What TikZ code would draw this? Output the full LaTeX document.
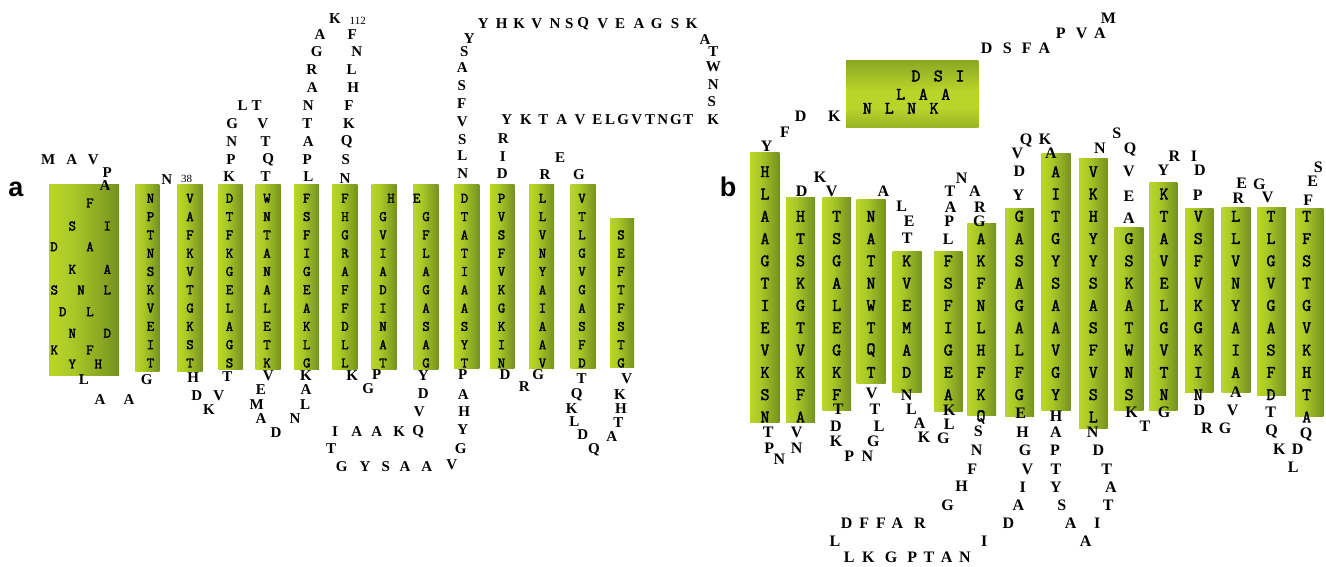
\documentclass[tikz,border=0pt]{standalone}
\usepackage{fontspec}
\setmainfont{Liberation Serif}
\newfontfamily\labelfont{Liberation Sans}
\newfontfamily\resfont[FakeBold=2.2]{Latin Modern Mono}

% helix colours
\definecolor{hxL}{RGB}{122,152,30}
\definecolor{hxM}{RGB}{186,213,42}
\definecolor{hxM2}{RGB}{170,200,38}
\definecolor{hxR}{RGB}{76,104,28}
\definecolor{hzD}{RGB}{88,118,28}
\definecolor{hzD2}{RGB}{96,126,30}

% cylinder look: light band left of centre for upright helices
\pgfdeclarehorizontalshading{hxshade}{100bp}{color(0bp)=(hxL); color(26bp)=(hxM); color(42bp)=(hxM2); color(100bp)=(hxR)}
% lying helix: bright band just below the middle
\pgfdeclareverticalshading{hzshade}{100bp}{color(0bp)=(hzD2); color(40bp)=(hxM); color(52bp)=(hxM); color(100bp)=(hzD)}

\tikzset{
  hxv/.style={shading=hxshade},
  hzb/.style={shading=hzshade},
  resa/.style={inner sep=0pt, font=\fontsize{14.5}{14.5}\selectfont\resfont},
  resb/.style={inner sep=0pt, font=\fontsize{17.5}{17.5}\selectfont\resfont},
  loopa/.style={inner sep=0pt, font=\fontsize{15}{15}\selectfont\bfseries},
  loopb/.style={inner sep=0pt, font=\fontsize{16}{16}\selectfont\bfseries},
  numtag/.style={inner sep=0pt, font=\fontsize{11}{11}\selectfont},
  panel/.style={inner sep=0pt, font=\fontsize{27}{27}\selectfont\labelfont\bfseries}
}

% residues stacked in a helix, one per row
\newcommand\colA[4]{\foreach \c [count=\k from #3] in {#4}
  \node[resa] (#1-\k) at (#2,{198.3+(\k-1)*18.3}) {\c};}
\newcommand\colB[4]{\foreach \c [count=\k from #3] in {#4}
  \node[resb] (#1-\k) at (#2,{171.7+(\k-1)*22.3}) {\c};}
% residues placed freely
\newcommand\freeA[2]{\foreach \x/\y/\c [count=\k] in {#2} \node[resa] (#1-\k) at (\x,\y) {\c};}
\newcommand\freeB[2]{\foreach \x/\y/\c [count=\k] in {#2} \node[resb] (#1-\k) at (\x,\y) {\c};}
\newcommand\loopA[2]{\foreach \x/\y/\c [count=\k] in {#2} \node[loopa] (#1-\k) at (\x,\y) {\c};}
\newcommand\loopB[2]{\foreach \x/\y/\c [count=\k] in {#2} \node[loopb] (#1-\k) at (\x,\y) {\c};}

\begin{document}
\begin{tikzpicture}[x=1pt,y=-1pt]
\useasboundingbox (0,0) rectangle (1326,566);
\fill[white] (0,0) rectangle (1326,566);

%%%%%%%%%%%%%%%% panel a %%%%%%%%%%%%%%%%
\node[panel] (pa) at (16,189) {a};

\path[hxv] (49,184.5) rectangle (119,375);
\path[hxv] (135.3,184.5) rectangle (159.3,371);
\path[hxv] (177.7,184.5) rectangle (202.7,371);
\path[hxv] (218.3,184.5) rectangle (242.7,369);
\path[hxv] (255.7,184.5) rectangle (280.7,369);
\path[hxv] (294,184.5) rectangle (319,369);
\path[hxv] (332.3,184.5) rectangle (357.3,369);
\path[hxv] (371.7,184.5) rectangle (396.7,369);
\path[hxv] (413.3,184.5) rectangle (438.3,369);
\path[hxv] (454.3,184.5) rectangle (479.3,368);
\path[hxv] (490,184.5) rectangle (514.3,368);
\path[hxv] (529,184.5) rectangle (554,368);
\path[hxv] (570.7,184.5) rectangle (595.7,368);
\path[hxv] (610,218.3) rectangle (634,367.7);

\freeA{a1}{90/203/F, 72.3/226/S, 107.3/226/I, 54/246.7/D, 90/246.7/A, 72.3/269.3/K, 107.3/269.3/A,
  54.3/290/S, 81/290/N, 107.3/290/L, 62.7/311.7/D, 90/311.7/L, 72.3/333.3/N, 107.3/333.3/D,
  54.3/350/K, 90/350/F, 72.3/364/Y, 98.3/364/H}
\colA{a2}{150.5}{1}{N,P,T,N,S,K,V,E,I,T}
\colA{a3}{190}{1}{V,A,F,K,V,T,G,K,S,T}
\colA{a4}{229.5}{1}{D,T,F,K,G,E,L,A,G,S}
\colA{a5}{267}{1}{W,N,T,A,N,A,L,E,T,K}
\colA{a6}{306.7}{1}{F,S,F,I,G,E,A,K,L,G}
\colA{a7}{345}{1}{F,H,G,R,A,F,F,D,L,L}
\colA{a8}{383}{2}{G,V,I,A,D,I,N,A,T}
\colA{a9}{426}{2}{G,F,L,A,G,A,S,A,G}
\colA{a10}{464.5}{1}{D,T,A,T,I,A,A,S,Y,T}
\colA{a11}{501.5}{1}{P,V,S,F,V,K,G,K,I,N}
\colA{a12}{542.5}{1}{L,L,V,N,Y,A,I,A,A,V}
\colA{a13}{582}{1}{V,T,L,G,V,G,A,S,F,D}
\colA{a14}{621}{3}{S,E,F,T,F,S,T,G}
\freeA{ax}{391/198.3/H, 416.7/198.3/E}

\loopA{la}{48.3/160/M, 71.7/160/A, 93.3/160/V, 107.3/172.2/P, 105/185.5/A, 84/380/L, 100/400/A, 129/400/A,
  146.7/380/G, 166.7/180/N, 193.3/377.3/H, 196.7/396/D, 209/409.3/K, 218.7/396/V, 227.3/376.7/T}
\loopA{lb}{229.3/176.7/K, 231/159.3/P, 231.7/141.7/N, 232.3/124/G, 242.7/106/L, 256.7/106/T,
  262.7/124/V, 265.7/141.7/T, 268.3/159.3/Q, 265.7/176.7/T}
\loopA{lc}{268.3/376/V, 261/390/E, 256.7/404.3/M, 261/418.3/A, 276/432.7/D, 295/418.3/N,
  305/404.3/L, 306/390/A, 306/376/K}
\loopA{ld}{308.3/176.7/L, 307.3/159.3/P, 308.3/141.7/A, 307.3/124/T, 308.3/106/N, 312.3/87.7/A,
  311.7/69.3/R, 316.7/51.7/G, 320/34.3/A, 335/18.3/K, 352.3/34.3/F, 356.7/51.7/N, 351.7/69.3/L,
  353.3/87.7/H, 349/106/F, 349/124/K, 346.7/141.7/Q, 345.7/160/S, 345/178.3/N}
\loopA{le}{352.3/376/K, 368.3/388.3/G, 376.7/375/P}
\loopA{lf}{423.3/376/Y, 423.3/394/D, 419.3/411.7/V, 418.3/431.7/Q, 399.3/431.7/K, 376.7/431.7/A,
  356.7/431.7/A, 335/431.7/I, 331/448.3/T, 341.7/466.7/G, 365/466.7/Y, 385.7/466.7/S, 405/466.7/A,
  426.7/466.7/A, 451.7/465/V, 460.7/448.3/G, 462.7/430/Y, 464.3/411.7/H, 463.3/395/A, 462.7/375/P}
\loopA{lg}{462.7/174/N, 462.3/156/L, 462.3/139.3/S, 462.3/121.7/V, 461.7/103.3/F, 461.7/86/S,
  462.3/67.7/A, 464.3/51.7/S, 469.3/38.3/Y, 483.3/23.3/Y, 501.7/23.3/H, 519.3/23.3/K, 536.7/23.3/V,
  555/23.3/N, 569.3/23.3/S, 583.3/23.3/Q, 602.7/23.3/V, 620/23.3/E, 639/23.3/A, 656.7/23.3/G,
  675/23.3/S, 691.7/23.3/K, 705/39.3/A, 713.3/51.7/T, 713.3/66.7/W, 713.3/85/N, 711.7/101.7/S,
  713.3/120/K, 688.3/120/T, 676/120/G, 662.7/120/N, 650/120/T, 636.7/120/V, 623.3/120/G, 610/120/L,
  597.3/120/E, 580/120/V, 561.7/120/A, 543.3/120/T, 526/120/K, 506.7/120/Y, 503.3/138.3/R,
  502.7/156.7/I, 502.3/174/D}
\loopA{lh}{505/375/D, 524.3/386.7/R, 538.3/375/G, 545/175/R, 560/157.3/E, 579/175/G, 581.7/378.3/T,
  576.7/395/Q, 571.7/408.3/K, 574.3/421.7/L, 582.7/435/D, 594/450/Q, 611.7/436.7/A, 618.3/422.7/T,
  621/408.3/H, 620/395/K, 626.7/378.3/V}

\node[numtag] (n38) at (186.7,179.3) {38};
\node[numtag] (n112) at (357.7,21) {112};

%%%%%%%%%%%%%%%% panel b %%%%%%%%%%%%%%%%
\node[panel] (pb) at (728,187) {b};

\path[hzb] (846,60.7) rectangle (978.3,127.3);
\path[hxv] (750,152.7) rectangle (779.3,422.3);
\path[hxv] (786,197.3) rectangle (815,422.3);
\path[hxv] (822.3,197.3) rectangle (851,410);
\path[hxv] (856.7,199.3) rectangle (885.7,383.3);
\path[hxv] (892.7,251.7) rectangle (921.7,392.7);
\path[hxv] (934,251.7) rectangle (962.7,411.7);
\path[hxv] (967.3,223.3) rectangle (996,415);
\path[hxv] (1005,208.3) rectangle (1034,416);
\path[hxv] (1041.7,153.3) rectangle (1070.7,410);
\path[hxv] (1079,158.3) rectangle (1107.7,428.3);
\path[hxv] (1114.3,227.3) rectangle (1143.3,410);
\path[hxv] (1149.3,182.7) rectangle (1177.3,410);
\path[hxv] (1185,208.3) rectangle (1213.3,392.7);
\path[hxv] (1221.7,207.3) rectangle (1250.7,392.7);
\path[hxv] (1257.3,207.3) rectangle (1286,395);
\path[hxv] (1295,208.3) rectangle (1323.3,416.7);

\freeB{b0}{916/76/D, 938.3/76/S, 960/76/I, 900.7/94.3/L, 923.3/94.3/A, 945.7/94.3/A,
  867.3/108.3/N, 889.3/108.3/L, 911.7/108.3/N, 934/108.3/K}
\colB{b1}{765}{1}{H,L,A,A,G,T,I,E,V,K,S,N}
\colB{b2}{800.5}{3}{H,T,S,K,G,T,V,K,F,A}
\colB{b3}{836.7}{3}{T,S,G,A,L,E,G,K,F}
\colB{b4}{871}{3}{N,A,T,N,W,T,Q,T}
\colB{b5}{906.7}{5}{K,V,E,M,A,D}
\colB{b6}{948.3}{5}{F,S,F,I,G,E,A}
\colB{b7}{981}{4}{A,K,F,N,L,H,F,K,Q}
\colB{b8}{1019.3}{3}{G,A,S,A,G,A,L,F,G}
\colB{b9}{1055.7}{1}{A,I,T,G,Y,S,A,A,V,G,Y}
\colB{b10}{1093.3}{1}{V,K,H,Y,Y,S,A,S,F,V,S,L}
\colB{b11}{1129}{4}{G,S,K,A,T,W,N,S}
\colB{b12}{1164}{2}{K,T,A,V,E,L,G,V,T,N}
\colB{b13}{1198.3}{3}{V,S,F,V,K,G,K,I,N}
\colB{b14}{1235.7}{3}{L,L,V,N,Y,A,I,A}
\colB{b15}{1271}{3}{T,L,G,V,G,A,S,F,D}
\colB{b16}{1306.7}{3}{T,F,S,T,G,V,K,H,T,A}

\loopB{ma}{1108.3/18.3/M, 1100/33.3/A, 1081.7/33.3/V, 1060.7/33.3/P, 1044.3/48.3/A, 1026.7/48.3/F,
  1007.3/48.3/S, 986.7/48.3/D, 834.3/116.7/K, 800.7/116.7/D, 785/132/F, 766.7/146/Y}
\loopB{mb}{768.3/432.7/T, 769.3/448.3/P, 779.3/459.3/N, 796.7/448.3/N, 796.7/432.7/V, 801.7/191.7/D,
  820/177.3/K, 831.7/191.7/V, 838.3/409/T, 836/426.7/D, 836/441.7/K, 849.3/456.5/P, 867.3/456/N,
  873.3/441.7/G, 879.3/426.7/L, 875/409.3/T, 871.7/393.3/V, 883.3/191.7/A, 901.7/206.7/L,
  909.3/221.7/E, 907.3/238.3/T}
\loopB{mc}{906.7/395/N, 911.5/409.5/L, 919.7/423/A, 924/437.5/K, 943.3/438.3/G, 949.3/424/L,
  949.3/410.5/K, 948.3/239/L, 949.3/221/P, 950.7/207.3/A, 950/191.7/T, 961.7/178.3/N, 975/191.7/A,
  980/207.3/R, 979.3/221.7/G}
\loopB{md}{978.3/431.7/S, 976.7/450.7/N, 972.3/469.3/F, 961.7/486.7/H, 947.7/505/G, 920/523.3/R,
  897.3/523.3/A, 881/523.3/F, 864.3/523.3/F, 846.7/523.3/D, 835/541.7/L, 849.3/557.5/L, 868.3/557.5/K,
  891/557.5/G, 912.3/557.5/P, 929/557.5/T, 946.7/557.5/A, 965/557.5/N, 984.3/541.7/I, 1008.3/523.3/D,
  1018.3/505.7/A, 1022.7/487/I, 1027.3/469.3/V, 1025/450.7/G, 1022.7/432.3/H, 1020.7/413.3/E}
\loopB{me}{1018.3/195/Y, 1019.3/171.7/D, 1017.3/153.3/V, 1026/140/Q, 1045/139/K, 1051/153.3/A,
  1056/416.5/H, 1056/432.3/A, 1055/450.7/P, 1056/469.3/T, 1056/487.3/Y, 1061.7/505.7/S,
  1070.7/523.3/A, 1085.7/541.7/A, 1097.3/523.3/I, 1108.3/505.7/T, 1111/487.3/A, 1106.7/469.3/T,
  1098.3/450.7/D, 1092.7/432.3/N}
\loopB{mf}{1100/148.3/N, 1116.7/133.3/S, 1130/149.3/Q, 1129/171.7/V, 1129/196/E, 1129/218.3/A,
  1131.5/412.7/K, 1145/426.7/T, 1164/412.7/G, 1163.3/170/Y, 1174.3/156.7/R, 1194/156/I, 1200/170/D,
  1197.7/195/P}
\loopB{mg}{1199.3/410.5/D, 1207/428.3/R, 1225/428.3/G, 1232.7/410.5/V, 1236/392.5/A, 1238.3/198.3/R,
  1241.7/183.3/E, 1259.3/184/G, 1267.7/197.3/V, 1270.7/412.7/T, 1271.7/431.7/Q, 1279.3/449.3/K,
  1297.7/449.3/D, 1293.3/467.3/L, 1306.2/434/Q, 1308.3/200/F, 1312.7/181/E, 1318.3/167.7/S}
\end{tikzpicture}
\end{document}
